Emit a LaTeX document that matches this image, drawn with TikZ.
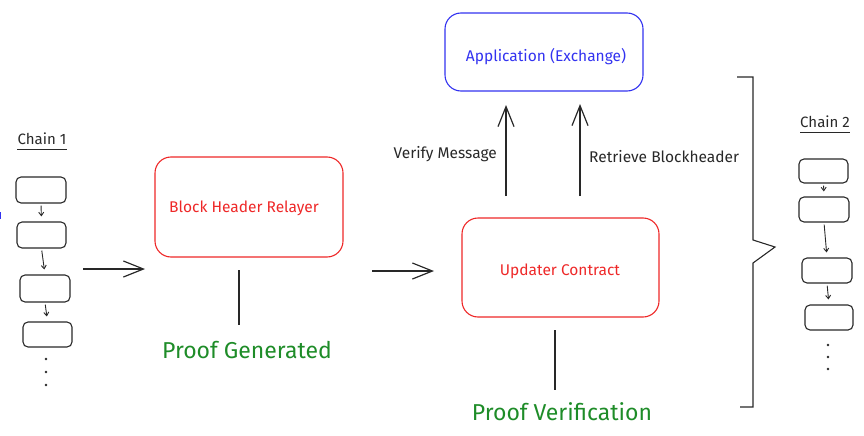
\documentclass[tikz,border=0pt]{standalone}
\usepackage{fontspec}
\setmainfont{Fira Sans}
\usetikzlibrary{arrows.meta}
\definecolor{bxred}{RGB}{238,40,40}
\definecolor{bxblue}{RGB}{50,50,240}
\definecolor{txgreen}{RGB}{30,140,40}
\definecolor{ink}{RGB}{40,40,40}
\tikzset{
  x=1pt,y=-1pt,
  blk/.style={draw=ink,line width=1.1pt,rounded corners=5pt,inner sep=0pt},
  bigbox/.style={line width=1.1pt,rounded corners=16pt,inner sep=0pt},
  boxtxt/.style={font=\fontsize{15.5}{18}\selectfont,inner sep=0pt},
  smallarr/.style={draw=ink,line width=0.9pt,-{Straight Barb[length=3.5pt,width=5pt]},shorten <=2pt,shorten >=5pt},
  bigarr/.style={draw=ink,line width=1.2pt,-{Straight Barb[length=20pt,width=16pt,line width=1.2pt]}},
  plainline/.style={draw=ink,line width=1.3pt},
  lbl/.style={font=\fontsize{15.5}{18}\selectfont,text=ink,inner sep=0pt},
  greenlbl/.style={font=\fontsize{23}{27}\selectfont,text=txgreen,inner sep=0pt},
  chainlbl/.style={font=\fontsize{15}{18}\selectfont,text=ink,inner sep=0pt},
  dotmark/.style={fill=ink,circle,inner sep=0pt,minimum size=2.6pt}
}
\begin{document}
\begin{tikzpicture}
\useasboundingbox (0,0) rectangle (864,436);
% chain 1
\node[chainlbl] (ch1) at (42,139) {Chain 1};
\draw[ink,line width=1.1pt] ([yshift=-4pt]ch1.south west) -- ([yshift=-4pt]ch1.south east);
\node[blk,minimum width=50pt,minimum height=26pt] (a1) at (41,190) {};
\node[blk,minimum width=49pt,minimum height=26pt] (a2) at (41.5,235) {};
\node[blk,minimum width=50pt,minimum height=27pt] (a3) at (45,288.5) {};
\node[blk,minimum width=49pt,minimum height=25pt] (a4) at (47.5,334.5) {};
\draw[smallarr] (a1.south) -- (a2.north);
\draw[smallarr] (a2.south) -- (a3.north);
\draw[smallarr] (a3.south) -- (a4.north);
\node[dotmark] (ad1) at (46,359) {};
\node[dotmark] (ad2) at (46,372) {};
\node[dotmark] (ad3) at (46,385) {};
\draw[bxblue,line width=1pt] (0.5,212) -- (0.5,219);
% chain 2
\node[chainlbl] (ch2) at (825,122) {Chain 2};
\draw[ink,line width=1.1pt] ([yshift=-4pt]ch2.south west) -- ([yshift=-4pt]ch2.south east);
\node[blk,minimum width=49pt,minimum height=24pt] (c1) at (823.5,171) {};
\node[blk,minimum width=50pt,minimum height=25pt] (c2) at (824,209.5) {};
\node[blk,minimum width=50pt,minimum height=25pt] (c3) at (827,270.5) {};
\node[blk,minimum width=48pt,minimum height=25pt] (c4) at (829,317.5) {};
\draw[smallarr] (c1.south) -- (c2.north);
\draw[smallarr] (c2.south) -- (c3.north);
\draw[smallarr] (c3.south) -- (c4.north);
\node[dotmark] (cd1) at (828,345) {};
\node[dotmark] (cd2) at (828,357) {};
\node[dotmark] (cd3) at (828,369) {};
% main boxes
\node[bigbox,draw=bxred,minimum width=188pt,minimum height=100pt] (rel) at (249,207) {};
\node[boxtxt,text=bxred] (relt) at (244,208) {Block Header Relayer};
\node[bigbox,draw=bxblue,minimum width=198pt,minimum height=78pt] (app) at (544,52) {};
\node[boxtxt,text=bxblue] (appt) at (546,57) {Application (Exchange)};
\node[bigbox,draw=bxred,minimum width=197pt,minimum height=99pt] (upd) at (560.5,267.5) {};
\node[boxtxt,text=bxred] (updt) at (560,271) {Updater Contract};
% arrows
\coordinate (s1) at (83,269);
\coordinate (e1) at (145,269);
\draw[bigarr] (s1) -- (e1);
\coordinate (s2) at (372,271);
\coordinate (e2) at (434,271);
\draw[bigarr] (s2) -- (e2);
\coordinate (v1) at (506,196);
\coordinate (v2) at (506,105);
\draw[bigarr] (v1) -- (v2);
\coordinate (r1) at (580,196);
\coordinate (r2) at (580,104);
\draw[bigarr] (r1) -- (r2);
\node[lbl,anchor=east] (vm) at (497,154) {Verify Message};
\node[lbl,anchor=west] (rb) at (589,157) {Retrieve Blockheader};
% proof lines
\coordinate (pg1) at (239,270);
\coordinate (pg2) at (239,325);
\draw[plainline] (pg1) -- (pg2);
\node[greenlbl] (pg) at (247,350) {Proof Generated};
\coordinate (pv1) at (555,330);
\coordinate (pv2) at (555,390);
\draw[plainline] (pv1) -- (pv2);
\node[greenlbl] (pv) at (562,412) {Proof Verification};
% bracket
\draw[ink,line width=1.1pt,line join=miter] (737,77) -- (753,77) -- (753,240) -- (775,247) -- (753,263) -- (753,407) -- (740,407);
\end{tikzpicture}
\end{document}
